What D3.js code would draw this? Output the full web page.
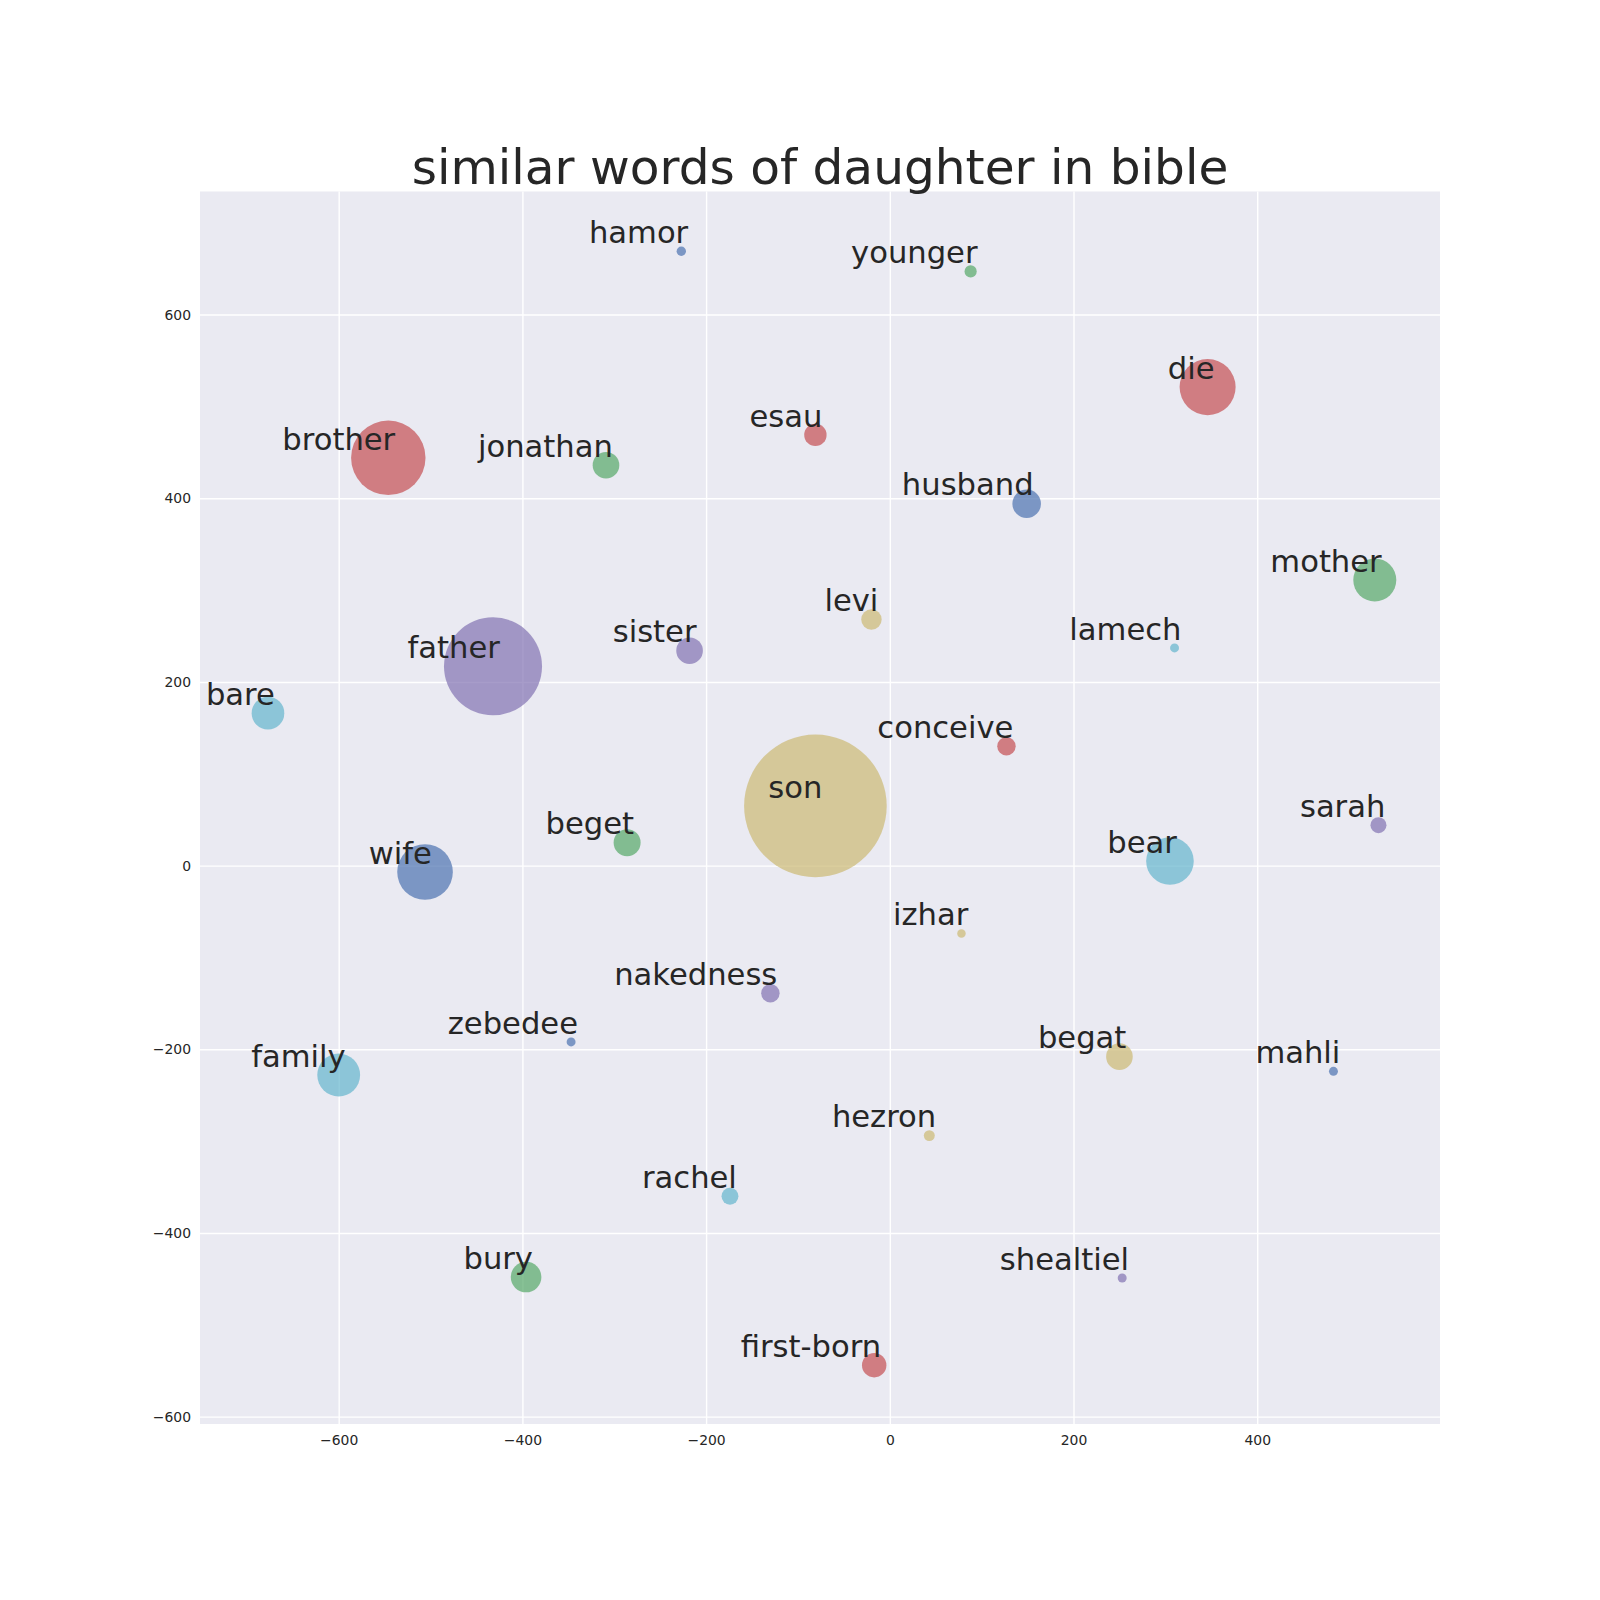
<!DOCTYPE html>
<html>
<head>
<meta charset="utf-8">
<script src="https://cdn.jsdelivr.net/npm/d3@7"></script>
<style>
  body { margin: 0; background: #fff; }
  text { font-family: 'DejaVu Sans', sans-serif; fill: #262626; }
</style>
</head>
<body>
<div id="content"></div>
<script>
// data, in plotting order (colour follows the default cycle)
const words = [
  'wife', 'mother', 'brother', 'father', 'son', 'bear',
  'husband', 'jonathan', 'die', 'sister', 'levi', 'family',
  'hamor', 'beget', 'esau', 'sarah', 'begat', 'bare',
  'zebedee', 'bury', 'conceive', 'nakedness', 'hezron', 'rachel',
  'mahli', 'younger', 'first-born', 'shealtiel', 'izhar', 'lamech'
]
const xs = [
  -506, 528, -546, -432, -81, 305,
  149, -309, 346, -218, -20, -600,
  -227, -286, -81, 532, 250, -677,
  -347, -396, 127, -130, 43, -174,
  483, 88, -17, 253, 78, 310
]
const ys = [
  -7, 311, 444, 217, 65, 5,
  394, 436, 521, 234, 268, -228,
  669, 25, 469, 44, -208, 166,
  -192, -448, 130, -139, -294, -360,
  -224, 647, -544, -449, -74, 237
]
// bubble weight (area)
const weights = [
  77.3, 46.2, 138.4, 240, 508, 56.6,
  20.4, 17.7, 78.4, 17.7, 10.4, 45.8,
  2.2, 18.2, 12.5, 6.4, 17.7, 26.6,
  2.0, 23.4, 8.5, 8.5, 3.0, 7.1,
  2.0, 3.7, 14.9, 2.0, 1.8, 2.0
]
const xTicks = [-600, -400, -200, 0, 200, 400]
const yTicks = [-600, -400, -200, 0, 200, 400, 600]
const title = 'similar words of daughter in bible'

const palette = ['#4C72B0', '#55A868', '#C44E52', '#8172B2', '#CCB974', '#64B5CD']

const W = 1600, H = 1600
const plot = { left: 200, right: 1440, top: 191.5, bottom: 1424 }

const svg = d3.select('#content').append('svg')
  .attr('width', W)
  .attr('height', H)

const x = d3.scaleLinear().domain([-751, 599]).range([plot.left, plot.right])
const y = d3.scaleLinear().domain([-608, 734]).range([plot.bottom, plot.top])
const r = d3.scaleSqrt().domain([0, d3.max(weights)]).range([0, 71.3])
const color = d3.scaleOrdinal().domain(d3.range(6)).range(palette)

// background
svg.append('rect')
  .attr('x', plot.left)
  .attr('y', plot.top)
  .attr('width', plot.right - plot.left)
  .attr('height', plot.bottom - plot.top)
  .attr('fill', '#EAEAF2')

// axes (grid + labels)
const xAxis = d3.axisBottom(x).tickValues(xTicks).tickSize(-(plot.bottom - plot.top)).tickPadding(11)
  .tickFormat(d => d3.format('d')(d).replace('-', '\u2212'))
const yAxis = d3.axisLeft(y).tickValues(yTicks).tickSize(-(plot.right - plot.left)).tickPadding(9)
  .tickFormat(d => d3.format('d')(d).replace('-', '\u2212'))

const gx = svg.append('g')
  .attr('transform', 'translate(0,' + plot.bottom + ')')
  .call(xAxis)
const gy = svg.append('g')
  .attr('transform', 'translate(' + plot.left + ',0)')
  .call(yAxis)

for (const g of [gx, gy]) {
  g.select('.domain').remove()
  g.selectAll('.tick line')
    .attr('stroke', '#fff')
    .attr('stroke-width', 1.4)
  g.selectAll('.tick text')
    .attr('font-size', 13.9)
    .attr('font-family', 'DejaVu Sans')
    .attr('fill', '#262626')
}

// bubbles
const idx = d3.range(words.length)
svg.append('g').selectAll('circle')
  .data(idx)
  .join('circle')
  .attr('cx', i => x(xs[i]))
  .attr('cy', i => y(ys[i]))
  .attr('r', i => r(weights[i]))
  .attr('fill', i => color(i % 6))
  .attr('fill-opacity', 0.7)

// labels
svg.append('g').selectAll('text')
  .data(idx)
  .join('text')
  .attr('x', i => x(xs[i]) + 6.9)
  .attr('y', i => y(ys[i]) - 8.3)
  .attr('text-anchor', 'end')
  .attr('font-size', 30.6)
  .text(i => words[i])

// title
svg.append('text')
  .attr('x', (plot.left + plot.right) / 2)
  .attr('y', 184)
  .attr('text-anchor', 'middle')
  .attr('font-size', 48.6)
  .text(title)
</script>
</body>
</html>
